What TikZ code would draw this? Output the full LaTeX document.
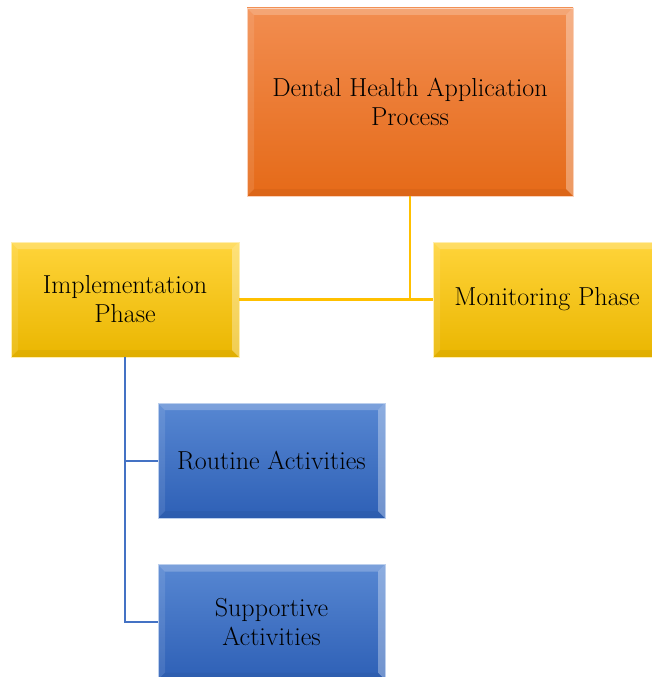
\documentclass[tikz,border=0pt]{standalone}
\usetikzlibrary{positioning}

\definecolor{orangetop}{HTML}{F28D50}
\definecolor{orangebot}{HTML}{E56A18}
\definecolor{yellowtop}{HTML}{FFD43A}
\definecolor{yellowbot}{HTML}{EAB600}
\definecolor{bluetop}{HTML}{5787D2}
\definecolor{bluebot}{HTML}{2E60B6}
\definecolor{yline}{HTML}{FFC000}
\definecolor{bline}{HTML}{4472C4}

\tikzset{
  bevel/.style={path picture={
    \fill[white,opacity=0.22] (path picture bounding box.north west) -- (path picture bounding box.north east)
      -- ([shift={(-7,7)}]path picture bounding box.north east) -- ([shift={(7,7)}]path picture bounding box.north west) -- cycle;
    \fill[white,opacity=0.10] (path picture bounding box.north west) -- ([shift={(7,7)}]path picture bounding box.north west)
      -- ([shift={(7,-7)}]path picture bounding box.south west) -- (path picture bounding box.south west) -- cycle;
    \fill[white,opacity=0.32] (path picture bounding box.north east) -- ([shift={(-7,7)}]path picture bounding box.north east)
      -- ([shift={(-7,-7)}]path picture bounding box.south east) -- (path picture bounding box.south east) -- cycle;
    \fill[black,opacity=0.04] (path picture bounding box.south west) -- ([shift={(7,-7)}]path picture bounding box.south west)
      -- ([shift={(-7,-7)}]path picture bounding box.south east) -- (path picture bounding box.south east) -- cycle;
  }},
  boxbase/.style={rectangle, bevel, line width=0.8pt, align=center, inner sep=0pt,
    font=\fontsize{26}{29}\selectfont},
  topbox/.style={boxbase, top color=orangetop, bottom color=orangebot, draw=orangetop!40!white,
    minimum width=326pt, minimum height=188pt},
  phasebox/.style={boxbase, top color=yellowtop, bottom color=yellowbot, draw=yellowtop!40!white,
    minimum width=228pt, minimum height=115pt},
  activitybox/.style={boxbase, top color=bluetop, bottom color=bluebot, draw=bluetop!40!white,
    minimum width=227pt, minimum height=115pt},
  yconn/.style={draw=yline, line width=2.4pt},
  bconn/.style={draw=bline, line width=2pt}
}

\begin{document}
\begin{tikzpicture}[x=1pt,y=-1pt]
\path[use as bounding box, clip] (0,0) rectangle (652,677);
\fill[white] (0,0) rectangle (652,677);

\node[topbox] (process) at (410,102) {Dental Health Application\\Process};
\node[phasebox] (impl) at (125,299.5) {Implementation\\Phase};
\node[phasebox] (monitor) at (547,299.5) {Monitoring Phase};
\node[activitybox] (routine) at (271.5,460.5) {Routine Activities};
\node[activitybox] (support) at (271.5,622) {Supportive\\Activities};

% connectors
\draw[yconn] (impl.east) -- (monitor.west);
\draw[yconn] (process.south) -- (process.south |- impl.east);
\draw[bconn] (impl.south) |- (routine.west);
\draw[bconn] (impl.south) |- (support.west);
\end{tikzpicture}
\end{document}
